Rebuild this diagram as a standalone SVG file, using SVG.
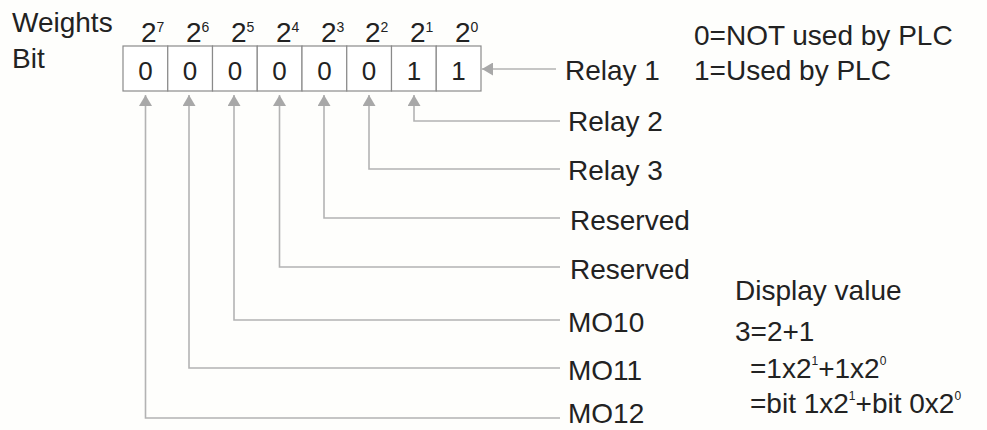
<svg xmlns="http://www.w3.org/2000/svg" width="987" height="430" viewBox="0 0 987 430">
<style>
  text { font-family: "Liberation Sans", Arial, sans-serif; fill: #222; }
  .lbl { font-size: 28px; }
  .pw { font-size: 28px; }
  .sup { font-size: 14px; }
  .dig { font-size: 26px; text-anchor: middle; }
  .cell { fill: #fff; stroke: #8a8a8a; stroke-width: 1.2; }
  .con { fill: none; stroke: #b3b3b3; stroke-width: 1.6; marker-end: url(#ah); }
</style>
<defs>
  <marker id="ah" viewBox="0 0 11 13" refX="11" refY="6.5" markerWidth="11" markerHeight="13" markerUnits="userSpaceOnUse" orient="auto">
    <path d="M0,0 L11,6.5 L0,13 z" fill="#a8a8a8"/>
  </marker>
</defs>
<rect width="987" height="430" fill="#fefefc"/>

<g id="header">
  <text class="lbl" x="12" y="32">Weights</text>
  <text class="lbl" x="12" y="68">Bit</text>
</g>

<g id="weights">
  <text class="pw" x="141" y="42">2<tspan class="sup" dy="-10">7</tspan></text>
  <text class="pw" x="186" y="42">2<tspan class="sup" dy="-10">6</tspan></text>
  <text class="pw" x="231" y="42">2<tspan class="sup" dy="-10">5</tspan></text>
  <text class="pw" x="276" y="42">2<tspan class="sup" dy="-10">4</tspan></text>
  <text class="pw" x="321" y="42">2<tspan class="sup" dy="-10">3</tspan></text>
  <text class="pw" x="365" y="42">2<tspan class="sup" dy="-10">2</tspan></text>
  <text class="pw" x="410" y="42">2<tspan class="sup" dy="-10">1</tspan></text>
  <text class="pw" x="455" y="42">2<tspan class="sup" dy="-10">0</tspan></text>
</g>

<g id="bit-register">
  <rect class="cell" x="123" y="46" width="44.75" height="45"/>
  <rect class="cell" x="167.75" y="46" width="44.75" height="45"/>
  <rect class="cell" x="212.5" y="46" width="44.75" height="45"/>
  <rect class="cell" x="257.25" y="46" width="44.75" height="45"/>
  <rect class="cell" x="302" y="46" width="44.75" height="45"/>
  <rect class="cell" x="346.75" y="46" width="44.75" height="45"/>
  <rect class="cell" x="391.5" y="46" width="44.75" height="45"/>
  <rect class="cell" x="436.25" y="46" width="44.75" height="45"/>
  <text class="dig" x="145.4" y="80">0</text>
  <text class="dig" x="190.1" y="80">0</text>
  <text class="dig" x="234.9" y="80">0</text>
  <text class="dig" x="279.6" y="80">0</text>
  <text class="dig" x="324.4" y="80">0</text>
  <text class="dig" x="369.1" y="80">0</text>
  <text class="dig" x="413.9" y="80">1</text>
  <text class="dig" x="458.6" y="80">1</text>
</g>

<g id="connectors">
  <path class="con" d="M556,69 H482"/>
  <path class="con" d="M560,121 H414 V95"/>
  <path class="con" d="M560,169 H369 V95"/>
  <path class="con" d="M560,218 H324 V95"/>
  <path class="con" d="M560,267 H279.5 V95"/>
  <path class="con" d="M560,320 H234 V95"/>
  <path class="con" d="M560,368 H189 V95"/>
  <path class="con" d="M560,418 H145.5 V95"/>
</g>

<g id="relay1"><text class="lbl" x="565" y="80">Relay 1</text></g>
<g id="relay2"><text class="lbl" x="568" y="131">Relay 2</text></g>
<g id="relay3"><text class="lbl" x="568" y="180">Relay 3</text></g>
<g id="reserved1"><text class="lbl" x="570" y="230">Reserved</text></g>
<g id="reserved2"><text class="lbl" x="570" y="279">Reserved</text></g>
<g id="mo10"><text class="lbl" x="568" y="332">MO10</text></g>
<g id="mo11"><text class="lbl" x="568" y="380">MO11</text></g>
<g id="mo12"><text class="lbl" x="568" y="423">MO12</text></g>

<g id="legend">
  <text class="lbl" x="694" y="45">0=NOT used by PLC</text>
  <text class="lbl" x="694" y="80">1=Used by PLC</text>
</g>

<g id="display-value">
  <text class="lbl" x="735" y="300">Display value</text>
  <text class="lbl" x="735" y="341">3=2+1</text>
  <text class="lbl" x="750" y="378">=1x2<tspan font-size="12" dy="-13">1</tspan><tspan dy="13">+1x2</tspan><tspan font-size="12" dy="-13">0</tspan></text>
  <text class="lbl" x="750" y="413">=bit 1x2<tspan font-size="12" dy="-13">1</tspan><tspan dy="13">+bit 0x2</tspan><tspan font-size="12" dy="-13">0</tspan></text>
</g>
</svg>
